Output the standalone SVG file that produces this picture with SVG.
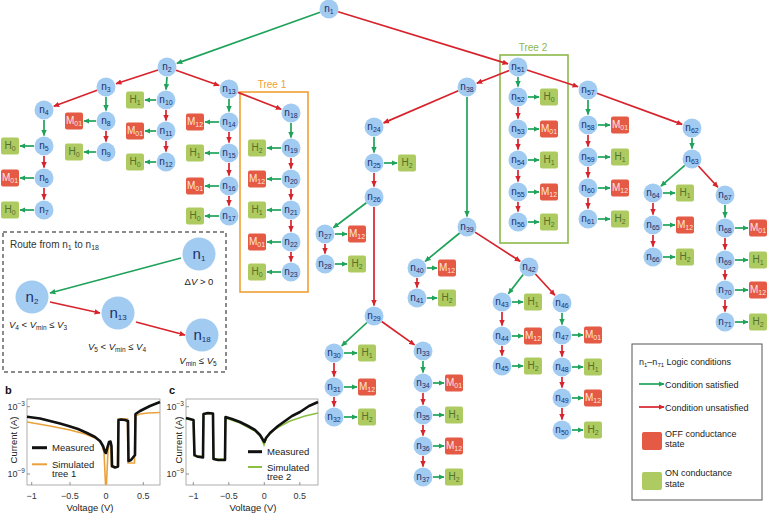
<svg xmlns="http://www.w3.org/2000/svg" width="768" height="514" viewBox="0 0 768 514">
<style>
text{font-family:"Liberation Sans",Arial,sans-serif}
.nd circle{fill:#A2CBF2}
.nd text{font-size:10px;fill:#1B2F6B;text-anchor:middle}
.sb{font-size:7px}
.off rect{fill:#E45A44}
.on rect{fill:#AECB62}
.off text{font-size:10px;fill:#FDE5DF;text-anchor:middle}
.on text{font-size:10px;fill:#55702C;text-anchor:middle}
.g{stroke:#1FA25A;stroke-width:1.7;fill:none;marker-end:url(#ag)}
.r{stroke:#D7232B;stroke-width:1.7;fill:none;marker-end:url(#ar)}
.big circle{fill:#A2CBF2}
.big text{font-size:15px;fill:#1B2F6B;text-anchor:middle}
.lbl{font-size:9.5px;fill:#222}
.ax{font-size:9px;fill:#333}
</style>
<defs>
<marker id="ag" viewBox="0 0 10 10" refX="9" refY="5" markerWidth="6" markerHeight="6" markerUnits="userSpaceOnUse" orient="auto"><path d="M0,0.5 L10,5 L0,9.5 z" fill="#1FA25A"/></marker>
<marker id="ar" viewBox="0 0 10 10" refX="9" refY="5" markerWidth="6" markerHeight="6" markerUnits="userSpaceOnUse" orient="auto"><path d="M0,0.5 L10,5 L0,9.5 z" fill="#D7232B"/></marker>
</defs>
<rect width="768" height="514" fill="#fff"/>

<!-- tree boxes -->
<rect x="240" y="92" width="68" height="200" fill="none" stroke="#F0A035" stroke-width="1.6"/>
<text x="272" y="88" font-size="10" fill="#F0A035" text-anchor="middle">Tree 1</text>
<rect x="500" y="55" width="68" height="188" fill="none" stroke="#8DB84A" stroke-width="1.6"/>
<text x="533" y="51" font-size="10" fill="#8DB84A" text-anchor="middle">Tree 2</text>

<g id="connectors">
<line class="g" x1="320.1" y1="12.2" x2="176.9" y2="63.4"/>
<line class="g" x1="167" y1="77" x2="166" y2="89.5"/>
<line class="g" x1="106" y1="97" x2="106" y2="110.5"/>
<line class="g" x1="44" y1="120" x2="44" y2="135.5"/>
<line class="g" x1="229" y1="99" x2="229" y2="111.5"/>
<line class="g" x1="291" y1="123" x2="291" y2="137.5"/>
<line class="g" x1="518" y1="77" x2="518" y2="86.5"/>
<line class="g" x1="467" y1="97" x2="467" y2="216.5"/>
<line class="g" x1="374" y1="137" x2="374" y2="152.5"/>
<line class="g" x1="366.4" y1="202.7" x2="333.4" y2="227.7"/>
<line class="g" x1="367" y1="322.5" x2="341.7" y2="345.9"/>
<line class="g" x1="423" y1="361" x2="423" y2="372.5"/>
<line class="g" x1="459.7" y1="233" x2="425.1" y2="261.3"/>
<line class="g" x1="523.2" y1="274.5" x2="508.4" y2="293.7"/>
<line class="g" x1="562" y1="313" x2="562" y2="324.5"/>
<line class="g" x1="588" y1="100" x2="588" y2="114.5"/>
<line class="g" x1="692" y1="138" x2="692" y2="148.5"/>
<line class="g" x1="684.8" y1="165.3" x2="660.9" y2="186.1"/>
<line class="g" x1="725" y1="205" x2="725" y2="217.5"/>

<line class="r" x1="338.1" y1="11.8" x2="508" y2="63.9"/>
<line class="r" x1="158" y1="70" x2="116" y2="83.7"/>
<line class="r" x1="176" y1="70.2" x2="219.1" y2="85.5"/>
<line class="r" x1="97.1" y1="90.3" x2="53.8" y2="106.3"/>
<line class="r" x1="44" y1="156" x2="44" y2="167.5"/>
<line class="r" x1="44" y1="188" x2="44" y2="199.5"/>
<line class="r" x1="106" y1="131" x2="106" y2="141.5"/>
<line class="r" x1="166" y1="110" x2="166" y2="120.5"/>
<line class="r" x1="166" y1="141" x2="166" y2="151.5"/>
<line class="r" x1="237.9" y1="92.4" x2="281.2" y2="109.2"/>
<line class="r" x1="229" y1="132" x2="229" y2="142.5"/>
<line class="r" x1="229" y1="163" x2="229" y2="175.5"/>
<line class="r" x1="229" y1="196" x2="229" y2="205.5"/>
<line class="r" x1="291" y1="158" x2="291" y2="168.5"/>
<line class="r" x1="291" y1="189" x2="291" y2="199.5"/>
<line class="r" x1="291" y1="220" x2="291" y2="231.5"/>
<line class="r" x1="291" y1="252" x2="291" y2="261.5"/>
<line class="r" x1="509.2" y1="70.5" x2="476.8" y2="83.2"/>
<line class="r" x1="527" y1="70" x2="578" y2="86.7"/>
<line class="r" x1="458.3" y1="90.8" x2="383.6" y2="122.9"/>
<line class="r" x1="374" y1="173" x2="374" y2="186.5"/>
<line class="r" x1="374" y1="207" x2="374" y2="305.5"/>
<line class="r" x1="325" y1="244" x2="325" y2="253.5"/>
<line class="r" x1="381.7" y1="321.5" x2="414.5" y2="344.9"/>
<line class="r" x1="334" y1="363" x2="334" y2="376.5"/>
<line class="r" x1="334" y1="397" x2="334" y2="406.5"/>
<line class="r" x1="423" y1="393" x2="423" y2="404.5"/>
<line class="r" x1="423" y1="425" x2="423" y2="435.5"/>
<line class="r" x1="423" y1="456" x2="423" y2="466.5"/>
<line class="r" x1="475" y1="232.1" x2="520.2" y2="261.3"/>
<line class="r" x1="417" y1="278" x2="417" y2="287.5"/>
<line class="r" x1="535.4" y1="274" x2="554.9" y2="295.3"/>
<line class="r" x1="502" y1="312" x2="502" y2="325.5"/>
<line class="r" x1="502" y1="346" x2="502" y2="355.5"/>
<line class="r" x1="562" y1="345" x2="562" y2="356.5"/>
<line class="r" x1="562" y1="377" x2="562" y2="387.5"/>
<line class="r" x1="562" y1="408" x2="562" y2="419.5"/>
<line class="r" x1="518" y1="107" x2="518" y2="118.5"/>
<line class="r" x1="518" y1="139" x2="518" y2="149.5"/>
<line class="r" x1="518" y1="170" x2="518" y2="181.5"/>
<line class="r" x1="518" y1="202" x2="518" y2="211.5"/>
<line class="r" x1="596.9" y1="93.3" x2="682.1" y2="124.4"/>
<line class="r" x1="588" y1="135" x2="588" y2="146.5"/>
<line class="r" x1="588" y1="167" x2="588" y2="177.5"/>
<line class="r" x1="588" y1="198" x2="588" y2="208.5"/>
<line class="r" x1="698.4" y1="166" x2="717.9" y2="187.3"/>
<line class="r" x1="653" y1="203" x2="653" y2="214.5"/>
<line class="r" x1="653" y1="235" x2="653" y2="246.5"/>
<line class="r" x1="725" y1="238" x2="725" y2="249.5"/>
<line class="r" x1="725" y1="270" x2="725" y2="279.5"/>
<line class="r" x1="725" y1="300" x2="725" y2="311.5"/>

<line class="g" x1="34" y1="146" x2="20" y2="146"/>
<line class="g" x1="34" y1="178" x2="20" y2="178"/>
<line class="g" x1="34" y1="210" x2="20" y2="210"/>
<line class="g" x1="96" y1="121" x2="84" y2="121"/>
<line class="g" x1="96" y1="152" x2="84" y2="152"/>
<line class="g" x1="156" y1="100" x2="145" y2="100"/>
<line class="g" x1="156" y1="131" x2="145" y2="131"/>
<line class="g" x1="156" y1="162" x2="145" y2="162"/>
<line class="g" x1="219" y1="122" x2="205" y2="122"/>
<line class="g" x1="219" y1="153" x2="205" y2="153"/>
<line class="g" x1="219" y1="186" x2="205" y2="186"/>
<line class="g" x1="219" y1="216" x2="205" y2="216"/>
<line class="g" x1="281" y1="148" x2="267" y2="148"/>
<line class="g" x1="281" y1="179" x2="267" y2="179"/>
<line class="g" x1="281" y1="210" x2="267" y2="210"/>
<line class="g" x1="281" y1="242" x2="267" y2="242"/>
<line class="g" x1="281" y1="272" x2="267" y2="272"/>
<line class="g" x1="384" y1="163" x2="397" y2="163"/>
<line class="g" x1="335" y1="234" x2="347" y2="234"/>
<line class="g" x1="335" y1="264" x2="347" y2="264"/>
<line class="g" x1="344" y1="353" x2="357" y2="353"/>
<line class="g" x1="344" y1="387" x2="357" y2="387"/>
<line class="g" x1="344" y1="417" x2="357" y2="417"/>
<line class="g" x1="433" y1="383" x2="444" y2="383"/>
<line class="g" x1="433" y1="415" x2="444" y2="415"/>
<line class="g" x1="433" y1="446" x2="444" y2="446"/>
<line class="g" x1="433" y1="477" x2="444" y2="477"/>
<line class="g" x1="427" y1="268" x2="437" y2="268"/>
<line class="g" x1="427" y1="298" x2="437" y2="298"/>
<line class="g" x1="512" y1="302" x2="523" y2="302"/>
<line class="g" x1="512" y1="336" x2="523" y2="336"/>
<line class="g" x1="512" y1="366" x2="523" y2="366"/>
<line class="g" x1="572" y1="335" x2="583" y2="335"/>
<line class="g" x1="572" y1="367" x2="583" y2="367"/>
<line class="g" x1="572" y1="398" x2="583" y2="398"/>
<line class="g" x1="572" y1="430" x2="583" y2="430"/>
<line class="g" x1="528" y1="97" x2="539" y2="97"/>
<line class="g" x1="528" y1="129" x2="539" y2="129"/>
<line class="g" x1="528" y1="160" x2="539" y2="160"/>
<line class="g" x1="528" y1="192" x2="539" y2="192"/>
<line class="g" x1="528" y1="222" x2="539" y2="222"/>
<line class="g" x1="598" y1="125" x2="610" y2="125"/>
<line class="g" x1="598" y1="157" x2="610" y2="157"/>
<line class="g" x1="598" y1="188" x2="610" y2="188"/>
<line class="g" x1="598" y1="219" x2="610" y2="219"/>
<line class="g" x1="663" y1="193" x2="675" y2="193"/>
<line class="g" x1="663" y1="225" x2="675" y2="225"/>
<line class="g" x1="663" y1="257" x2="675" y2="257"/>
<line class="g" x1="735" y1="228" x2="748" y2="228"/>
<line class="g" x1="735" y1="260" x2="748" y2="260"/>
<line class="g" x1="735" y1="290" x2="748" y2="290"/>
<line class="g" x1="735" y1="322" x2="748" y2="322"/>
</g>

<!-- logic nodes -->
<g id="n1" class="nd"><circle cx="329" cy="9" r="9.5"/><text x="329" y="12">n<tspan class="sb" dy="2">1</tspan></text></g>
<g id="n2" class="nd"><circle cx="167" cy="67" r="9.5"/><text x="167" y="70">n<tspan class="sb" dy="2">2</tspan></text></g>
<g id="n3" class="nd"><circle cx="106" cy="87" r="9.5"/><text x="106" y="90">n<tspan class="sb" dy="2">3</tspan></text></g>
<g id="n4" class="nd"><circle cx="44" cy="110" r="9.5"/><text x="44" y="113">n<tspan class="sb" dy="2">4</tspan></text></g>
<g id="n5" class="nd"><circle cx="44" cy="146" r="9.5"/><text x="44" y="149">n<tspan class="sb" dy="2">5</tspan></text></g>
<g id="n6" class="nd"><circle cx="44" cy="178" r="9.5"/><text x="44" y="181">n<tspan class="sb" dy="2">6</tspan></text></g>
<g id="n7" class="nd"><circle cx="44" cy="210" r="9.5"/><text x="44" y="213">n<tspan class="sb" dy="2">7</tspan></text></g>
<g id="n8" class="nd"><circle cx="106" cy="121" r="9.5"/><text x="106" y="124">n<tspan class="sb" dy="2">8</tspan></text></g>
<g id="n9" class="nd"><circle cx="106" cy="152" r="9.5"/><text x="106" y="155">n<tspan class="sb" dy="2">9</tspan></text></g>
<g id="n10" class="nd"><circle cx="166" cy="100" r="9.5"/><text x="166" y="103">n<tspan class="sb" dy="2">10</tspan></text></g>
<g id="n11" class="nd"><circle cx="166" cy="131" r="9.5"/><text x="166" y="134">n<tspan class="sb" dy="2">11</tspan></text></g>
<g id="n12" class="nd"><circle cx="166" cy="162" r="9.5"/><text x="166" y="165">n<tspan class="sb" dy="2">12</tspan></text></g>
<g id="n13" class="nd"><circle cx="229" cy="89" r="9.5"/><text x="229" y="92">n<tspan class="sb" dy="2">13</tspan></text></g>
<g id="n14" class="nd"><circle cx="229" cy="122" r="9.5"/><text x="229" y="125">n<tspan class="sb" dy="2">14</tspan></text></g>
<g id="n15" class="nd"><circle cx="229" cy="153" r="9.5"/><text x="229" y="156">n<tspan class="sb" dy="2">15</tspan></text></g>
<g id="n16" class="nd"><circle cx="229" cy="186" r="9.5"/><text x="229" y="189">n<tspan class="sb" dy="2">16</tspan></text></g>
<g id="n17" class="nd"><circle cx="229" cy="216" r="9.5"/><text x="229" y="219">n<tspan class="sb" dy="2">17</tspan></text></g>
<g id="n18" class="nd"><circle cx="291" cy="113" r="9.5"/><text x="291" y="116">n<tspan class="sb" dy="2">18</tspan></text></g>
<g id="n19" class="nd"><circle cx="291" cy="148" r="9.5"/><text x="291" y="151">n<tspan class="sb" dy="2">19</tspan></text></g>
<g id="n20" class="nd"><circle cx="291" cy="179" r="9.5"/><text x="291" y="182">n<tspan class="sb" dy="2">20</tspan></text></g>
<g id="n21" class="nd"><circle cx="291" cy="210" r="9.5"/><text x="291" y="213">n<tspan class="sb" dy="2">21</tspan></text></g>
<g id="n22" class="nd"><circle cx="291" cy="242" r="9.5"/><text x="291" y="245">n<tspan class="sb" dy="2">22</tspan></text></g>
<g id="n23" class="nd"><circle cx="291" cy="272" r="9.5"/><text x="291" y="275">n<tspan class="sb" dy="2">23</tspan></text></g>
<g id="n24" class="nd"><circle cx="374" cy="127" r="9.5"/><text x="374" y="130">n<tspan class="sb" dy="2">24</tspan></text></g>
<g id="n25" class="nd"><circle cx="374" cy="163" r="9.5"/><text x="374" y="166">n<tspan class="sb" dy="2">25</tspan></text></g>
<g id="n26" class="nd"><circle cx="374" cy="197" r="9.5"/><text x="374" y="200">n<tspan class="sb" dy="2">26</tspan></text></g>
<g id="n27" class="nd"><circle cx="325" cy="234" r="9.5"/><text x="325" y="237">n<tspan class="sb" dy="2">27</tspan></text></g>
<g id="n28" class="nd"><circle cx="325" cy="264" r="9.5"/><text x="325" y="267">n<tspan class="sb" dy="2">28</tspan></text></g>
<g id="n29" class="nd"><circle cx="374" cy="316" r="9.5"/><text x="374" y="319">n<tspan class="sb" dy="2">29</tspan></text></g>
<g id="n30" class="nd"><circle cx="334" cy="353" r="9.5"/><text x="334" y="356">n<tspan class="sb" dy="2">30</tspan></text></g>
<g id="n31" class="nd"><circle cx="334" cy="387" r="9.5"/><text x="334" y="390">n<tspan class="sb" dy="2">31</tspan></text></g>
<g id="n32" class="nd"><circle cx="334" cy="417" r="9.5"/><text x="334" y="420">n<tspan class="sb" dy="2">32</tspan></text></g>
<g id="n33" class="nd"><circle cx="423" cy="351" r="9.5"/><text x="423" y="354">n<tspan class="sb" dy="2">33</tspan></text></g>
<g id="n34" class="nd"><circle cx="423" cy="383" r="9.5"/><text x="423" y="386">n<tspan class="sb" dy="2">34</tspan></text></g>
<g id="n35" class="nd"><circle cx="423" cy="415" r="9.5"/><text x="423" y="418">n<tspan class="sb" dy="2">35</tspan></text></g>
<g id="n36" class="nd"><circle cx="423" cy="446" r="9.5"/><text x="423" y="449">n<tspan class="sb" dy="2">36</tspan></text></g>
<g id="n37" class="nd"><circle cx="423" cy="477" r="9.5"/><text x="423" y="480">n<tspan class="sb" dy="2">37</tspan></text></g>
<g id="n38" class="nd"><circle cx="467" cy="87" r="9.5"/><text x="467" y="90">n<tspan class="sb" dy="2">38</tspan></text></g>
<g id="n39" class="nd"><circle cx="467" cy="227" r="9.5"/><text x="467" y="230">n<tspan class="sb" dy="2">39</tspan></text></g>
<g id="n40" class="nd"><circle cx="417" cy="268" r="9.5"/><text x="417" y="271">n<tspan class="sb" dy="2">40</tspan></text></g>
<g id="n41" class="nd"><circle cx="417" cy="298" r="9.5"/><text x="417" y="301">n<tspan class="sb" dy="2">41</tspan></text></g>
<g id="n42" class="nd"><circle cx="529" cy="267" r="9.5"/><text x="529" y="270">n<tspan class="sb" dy="2">42</tspan></text></g>
<g id="n43" class="nd"><circle cx="502" cy="302" r="9.5"/><text x="502" y="305">n<tspan class="sb" dy="2">43</tspan></text></g>
<g id="n44" class="nd"><circle cx="502" cy="336" r="9.5"/><text x="502" y="339">n<tspan class="sb" dy="2">44</tspan></text></g>
<g id="n45" class="nd"><circle cx="502" cy="366" r="9.5"/><text x="502" y="369">n<tspan class="sb" dy="2">45</tspan></text></g>
<g id="n46" class="nd"><circle cx="562" cy="303" r="9.5"/><text x="562" y="306">n<tspan class="sb" dy="2">46</tspan></text></g>
<g id="n47" class="nd"><circle cx="562" cy="335" r="9.5"/><text x="562" y="338">n<tspan class="sb" dy="2">47</tspan></text></g>
<g id="n48" class="nd"><circle cx="562" cy="367" r="9.5"/><text x="562" y="370">n<tspan class="sb" dy="2">48</tspan></text></g>
<g id="n49" class="nd"><circle cx="562" cy="398" r="9.5"/><text x="562" y="401">n<tspan class="sb" dy="2">49</tspan></text></g>
<g id="n50" class="nd"><circle cx="562" cy="430" r="9.5"/><text x="562" y="433">n<tspan class="sb" dy="2">50</tspan></text></g>
<g id="n51" class="nd"><circle cx="518" cy="67" r="9.5"/><text x="518" y="70">n<tspan class="sb" dy="2">51</tspan></text></g>
<g id="n52" class="nd"><circle cx="518" cy="97" r="9.5"/><text x="518" y="100">n<tspan class="sb" dy="2">52</tspan></text></g>
<g id="n53" class="nd"><circle cx="518" cy="129" r="9.5"/><text x="518" y="132">n<tspan class="sb" dy="2">53</tspan></text></g>
<g id="n54" class="nd"><circle cx="518" cy="160" r="9.5"/><text x="518" y="163">n<tspan class="sb" dy="2">54</tspan></text></g>
<g id="n55" class="nd"><circle cx="518" cy="192" r="9.5"/><text x="518" y="195">n<tspan class="sb" dy="2">55</tspan></text></g>
<g id="n56" class="nd"><circle cx="518" cy="222" r="9.5"/><text x="518" y="225">n<tspan class="sb" dy="2">56</tspan></text></g>
<g id="n57" class="nd"><circle cx="588" cy="90" r="9.5"/><text x="588" y="93">n<tspan class="sb" dy="2">57</tspan></text></g>
<g id="n58" class="nd"><circle cx="588" cy="125" r="9.5"/><text x="588" y="128">n<tspan class="sb" dy="2">58</tspan></text></g>
<g id="n59" class="nd"><circle cx="588" cy="157" r="9.5"/><text x="588" y="160">n<tspan class="sb" dy="2">59</tspan></text></g>
<g id="n60" class="nd"><circle cx="588" cy="188" r="9.5"/><text x="588" y="191">n<tspan class="sb" dy="2">60</tspan></text></g>
<g id="n61" class="nd"><circle cx="588" cy="219" r="9.5"/><text x="588" y="222">n<tspan class="sb" dy="2">61</tspan></text></g>
<g id="n62" class="nd"><circle cx="692" cy="128" r="9.5"/><text x="692" y="131">n<tspan class="sb" dy="2">62</tspan></text></g>
<g id="n63" class="nd"><circle cx="692" cy="159" r="9.5"/><text x="692" y="162">n<tspan class="sb" dy="2">63</tspan></text></g>
<g id="n64" class="nd"><circle cx="653" cy="193" r="9.5"/><text x="653" y="196">n<tspan class="sb" dy="2">64</tspan></text></g>
<g id="n65" class="nd"><circle cx="653" cy="225" r="9.5"/><text x="653" y="228">n<tspan class="sb" dy="2">65</tspan></text></g>
<g id="n66" class="nd"><circle cx="653" cy="257" r="9.5"/><text x="653" y="260">n<tspan class="sb" dy="2">66</tspan></text></g>
<g id="n67" class="nd"><circle cx="725" cy="195" r="9.5"/><text x="725" y="198">n<tspan class="sb" dy="2">67</tspan></text></g>
<g id="n68" class="nd"><circle cx="725" cy="228" r="9.5"/><text x="725" y="231">n<tspan class="sb" dy="2">68</tspan></text></g>
<g id="n69" class="nd"><circle cx="725" cy="260" r="9.5"/><text x="725" y="263">n<tspan class="sb" dy="2">69</tspan></text></g>
<g id="n70" class="nd"><circle cx="725" cy="290" r="9.5"/><text x="725" y="293">n<tspan class="sb" dy="2">70</tspan></text></g>
<g id="n71" class="nd"><circle cx="725" cy="322" r="9.5"/><text x="725" y="325">n<tspan class="sb" dy="2">71</tspan></text></g>

<!-- state nodes -->
<g id="s5" class="on"><rect x="1" y="137.5" width="18" height="17" rx="2"/><text x="10" y="149">H<tspan class="sb" dy="2">0</tspan></text></g>
<g id="s6" class="off"><rect x="1" y="169.5" width="18" height="17" rx="2"/><text x="10" y="181">M<tspan class="sb" dy="2">01</tspan></text></g>
<g id="s7" class="on"><rect x="1" y="201.5" width="18" height="17" rx="2"/><text x="10" y="213">H<tspan class="sb" dy="2">0</tspan></text></g>
<g id="s8" class="off"><rect x="65" y="112.5" width="18" height="17" rx="2"/><text x="74" y="124">M<tspan class="sb" dy="2">01</tspan></text></g>
<g id="s9" class="on"><rect x="65" y="143.5" width="18" height="17" rx="2"/><text x="74" y="155">H<tspan class="sb" dy="2">0</tspan></text></g>
<g id="s10" class="on"><rect x="126" y="91.5" width="18" height="17" rx="2"/><text x="135" y="103">H<tspan class="sb" dy="2">1</tspan></text></g>
<g id="s11" class="off"><rect x="126" y="122.5" width="18" height="17" rx="2"/><text x="135" y="134">M<tspan class="sb" dy="2">01</tspan></text></g>
<g id="s12" class="on"><rect x="126" y="153.5" width="18" height="17" rx="2"/><text x="135" y="165">H<tspan class="sb" dy="2">0</tspan></text></g>
<g id="s14" class="off"><rect x="186" y="113.5" width="18" height="17" rx="2"/><text x="195" y="125">M<tspan class="sb" dy="2">12</tspan></text></g>
<g id="s15" class="on"><rect x="186" y="144.5" width="18" height="17" rx="2"/><text x="195" y="156">H<tspan class="sb" dy="2">1</tspan></text></g>
<g id="s16" class="off"><rect x="186" y="177.5" width="18" height="17" rx="2"/><text x="195" y="189">M<tspan class="sb" dy="2">01</tspan></text></g>
<g id="s17" class="on"><rect x="186" y="207.5" width="18" height="17" rx="2"/><text x="195" y="219">H<tspan class="sb" dy="2">0</tspan></text></g>
<g id="s19" class="on"><rect x="248" y="139.5" width="18" height="17" rx="2"/><text x="257" y="151">H<tspan class="sb" dy="2">2</tspan></text></g>
<g id="s20" class="off"><rect x="248" y="170.5" width="18" height="17" rx="2"/><text x="257" y="182">M<tspan class="sb" dy="2">12</tspan></text></g>
<g id="s21" class="on"><rect x="248" y="201.5" width="18" height="17" rx="2"/><text x="257" y="213">H<tspan class="sb" dy="2">1</tspan></text></g>
<g id="s22" class="off"><rect x="248" y="233.5" width="18" height="17" rx="2"/><text x="257" y="245">M<tspan class="sb" dy="2">01</tspan></text></g>
<g id="s23" class="on"><rect x="248" y="263.5" width="18" height="17" rx="2"/><text x="257" y="275">H<tspan class="sb" dy="2">0</tspan></text></g>
<g id="s25" class="on"><rect x="398" y="154.5" width="18" height="17" rx="2"/><text x="407" y="166">H<tspan class="sb" dy="2">2</tspan></text></g>
<g id="s27" class="off"><rect x="348" y="225.5" width="18" height="17" rx="2"/><text x="357" y="237">M<tspan class="sb" dy="2">12</tspan></text></g>
<g id="s28" class="on"><rect x="348" y="255.5" width="18" height="17" rx="2"/><text x="357" y="267">H<tspan class="sb" dy="2">2</tspan></text></g>
<g id="s30" class="on"><rect x="358" y="344.5" width="18" height="17" rx="2"/><text x="367" y="356">H<tspan class="sb" dy="2">1</tspan></text></g>
<g id="s31" class="off"><rect x="358" y="378.5" width="18" height="17" rx="2"/><text x="367" y="390">M<tspan class="sb" dy="2">12</tspan></text></g>
<g id="s32" class="on"><rect x="358" y="408.5" width="18" height="17" rx="2"/><text x="367" y="420">H<tspan class="sb" dy="2">2</tspan></text></g>
<g id="s34" class="off"><rect x="445" y="374.5" width="18" height="17" rx="2"/><text x="454" y="386">M<tspan class="sb" dy="2">01</tspan></text></g>
<g id="s35" class="on"><rect x="445" y="406.5" width="18" height="17" rx="2"/><text x="454" y="418">H<tspan class="sb" dy="2">1</tspan></text></g>
<g id="s36" class="off"><rect x="445" y="437.5" width="18" height="17" rx="2"/><text x="454" y="449">M<tspan class="sb" dy="2">12</tspan></text></g>
<g id="s37" class="on"><rect x="445" y="468.5" width="18" height="17" rx="2"/><text x="454" y="480">H<tspan class="sb" dy="2">2</tspan></text></g>
<g id="s40" class="off"><rect x="438" y="259.5" width="18" height="17" rx="2"/><text x="447" y="271">M<tspan class="sb" dy="2">12</tspan></text></g>
<g id="s41" class="on"><rect x="438" y="289.5" width="18" height="17" rx="2"/><text x="447" y="301">H<tspan class="sb" dy="2">2</tspan></text></g>
<g id="s43" class="on"><rect x="524" y="293.5" width="18" height="17" rx="2"/><text x="533" y="305">H<tspan class="sb" dy="2">1</tspan></text></g>
<g id="s44" class="off"><rect x="524" y="327.5" width="18" height="17" rx="2"/><text x="533" y="339">M<tspan class="sb" dy="2">12</tspan></text></g>
<g id="s45" class="on"><rect x="524" y="357.5" width="18" height="17" rx="2"/><text x="533" y="369">H<tspan class="sb" dy="2">2</tspan></text></g>
<g id="s47" class="off"><rect x="584" y="326.5" width="18" height="17" rx="2"/><text x="593" y="338">M<tspan class="sb" dy="2">01</tspan></text></g>
<g id="s48" class="on"><rect x="584" y="358.5" width="18" height="17" rx="2"/><text x="593" y="370">H<tspan class="sb" dy="2">1</tspan></text></g>
<g id="s49" class="off"><rect x="584" y="389.5" width="18" height="17" rx="2"/><text x="593" y="401">M<tspan class="sb" dy="2">12</tspan></text></g>
<g id="s50" class="on"><rect x="584" y="421.5" width="18" height="17" rx="2"/><text x="593" y="433">H<tspan class="sb" dy="2">2</tspan></text></g>
<g id="s52" class="on"><rect x="540" y="88.5" width="18" height="17" rx="2"/><text x="549" y="100">H<tspan class="sb" dy="2">0</tspan></text></g>
<g id="s53" class="off"><rect x="540" y="120.5" width="18" height="17" rx="2"/><text x="549" y="132">M<tspan class="sb" dy="2">01</tspan></text></g>
<g id="s54" class="on"><rect x="540" y="151.5" width="18" height="17" rx="2"/><text x="549" y="163">H<tspan class="sb" dy="2">1</tspan></text></g>
<g id="s55" class="off"><rect x="540" y="183.5" width="18" height="17" rx="2"/><text x="549" y="195">M<tspan class="sb" dy="2">12</tspan></text></g>
<g id="s56" class="on"><rect x="540" y="213.5" width="18" height="17" rx="2"/><text x="549" y="225">H<tspan class="sb" dy="2">2</tspan></text></g>
<g id="s58" class="off"><rect x="611" y="116.5" width="18" height="17" rx="2"/><text x="620" y="128">M<tspan class="sb" dy="2">01</tspan></text></g>
<g id="s59" class="on"><rect x="611" y="148.5" width="18" height="17" rx="2"/><text x="620" y="160">H<tspan class="sb" dy="2">1</tspan></text></g>
<g id="s60" class="off"><rect x="611" y="179.5" width="18" height="17" rx="2"/><text x="620" y="191">M<tspan class="sb" dy="2">12</tspan></text></g>
<g id="s61" class="on"><rect x="611" y="210.5" width="18" height="17" rx="2"/><text x="620" y="222">H<tspan class="sb" dy="2">2</tspan></text></g>
<g id="s64" class="on"><rect x="676" y="184.5" width="18" height="17" rx="2"/><text x="685" y="196">H<tspan class="sb" dy="2">1</tspan></text></g>
<g id="s65" class="off"><rect x="676" y="216.5" width="18" height="17" rx="2"/><text x="685" y="228">M<tspan class="sb" dy="2">12</tspan></text></g>
<g id="s66" class="on"><rect x="676" y="248.5" width="18" height="17" rx="2"/><text x="685" y="260">H<tspan class="sb" dy="2">2</tspan></text></g>
<g id="s68" class="off"><rect x="749" y="219.5" width="18" height="17" rx="2"/><text x="758" y="231">M<tspan class="sb" dy="2">01</tspan></text></g>
<g id="s69" class="on"><rect x="749" y="251.5" width="18" height="17" rx="2"/><text x="758" y="263">H<tspan class="sb" dy="2">1</tspan></text></g>
<g id="s70" class="off"><rect x="749" y="281.5" width="18" height="17" rx="2"/><text x="758" y="293">M<tspan class="sb" dy="2">12</tspan></text></g>
<g id="s71" class="on"><rect x="749" y="313.5" width="18" height="17" rx="2"/><text x="758" y="325">H<tspan class="sb" dy="2">2</tspan></text></g>

<!-- inset route -->
<g id="inset">
<rect x="3" y="232" width="223" height="140" fill="none" stroke="#666" stroke-width="1.5" stroke-dasharray="4,3"/>
<text x="10" y="248" font-size="10" fill="#333">Route from n<tspan font-size="7" dy="2">1</tspan><tspan dy="-2"> to n</tspan><tspan font-size="7" dy="2">18</tspan></text>
<line class="g" x1="181" y1="258" x2="50" y2="293"/>
<line class="r" x1="50" y1="302" x2="100" y2="313"/>
<line class="r" x1="136" y1="322" x2="185" y2="335"/>
<g id="i1" class="big"><circle cx="199" cy="254" r="16.5"/><text x="199" y="259">n<tspan font-size="8" dy="2">1</tspan></text></g>
<g id="i2" class="big"><circle cx="32" cy="297" r="16.5"/><text x="32" y="302">n<tspan font-size="8" dy="2">2</tspan></text></g>
<g id="i13" class="big"><circle cx="118" cy="313" r="16.5"/><text x="118" y="318">n<tspan font-size="8" dy="2">13</tspan></text></g>
<g id="i18" class="big"><circle cx="202" cy="335" r="16.5"/><text x="202" y="340">n<tspan font-size="8" dy="2">18</tspan></text></g>
<text x="199" y="285" class="lbl" text-anchor="middle">Δ<tspan font-style="italic">V</tspan> &gt; 0</text>
<text x="38" y="328" class="lbl" text-anchor="middle"><tspan font-style="italic">V</tspan><tspan font-size="6.5" dy="2">4</tspan><tspan dy="-2"> &lt; </tspan><tspan font-style="italic">V</tspan><tspan font-size="6.5" dy="2">min</tspan><tspan dy="-2"> ≤ </tspan><tspan font-style="italic">V</tspan><tspan font-size="6.5" dy="2">3</tspan></text>
<text x="117" y="350" class="lbl" text-anchor="middle"><tspan font-style="italic">V</tspan><tspan font-size="6.5" dy="2">5</tspan><tspan dy="-2"> &lt; </tspan><tspan font-style="italic">V</tspan><tspan font-size="6.5" dy="2">min</tspan><tspan dy="-2"> ≤ </tspan><tspan font-style="italic">V</tspan><tspan font-size="6.5" dy="2">4</tspan></text>
<text x="198" y="364" class="lbl" text-anchor="middle"><tspan font-style="italic">V</tspan><tspan font-size="6.5" dy="2">min</tspan><tspan dy="-2"> ≤ </tspan><tspan font-style="italic">V</tspan><tspan font-size="6.5" dy="2">5</tspan></text>
</g>

<!-- legend -->
<g id="legend">
<rect x="632" y="344" width="130" height="156" fill="#fff" stroke="#555" stroke-width="1"/>
<text x="639" y="365" font-size="9" fill="#222">n<tspan font-size="6" dy="2">1</tspan><tspan dy="-2">–n</tspan><tspan font-size="6" dy="2">71</tspan><tspan dy="-2"> Logic conditions</tspan></text>
<line class="g" x1="639" y1="384" x2="664" y2="384"/>
<text x="665" y="387.5" font-size="9" fill="#222">Condition satisfied</text>
<line class="r" x1="639" y1="407" x2="664" y2="407"/>
<text x="665" y="410.5" font-size="9" fill="#222">Condition unsatisfied</text>
<rect x="642" y="432" width="20" height="18" rx="2" fill="#E45A44"/>
<text x="665" y="436.5" font-size="9" fill="#222">OFF conductance</text>
<text x="665" y="447" font-size="9" fill="#222">state</text>
<rect x="642" y="472" width="20" height="18" rx="2" fill="#AECB62"/>
<text x="665" y="476" font-size="9" fill="#222">ON conductance</text>
<text x="665" y="487" font-size="9" fill="#222">state</text>
</g>

<!-- plot b -->
<g id="plot-b">
<text x="5" y="394" font-size="11" font-weight="bold" fill="#111">b</text>
<rect x="27" y="399" width="133" height="86" fill="none" stroke="#999" stroke-width="0.8"/>
<g stroke="#777" stroke-width="0.8"><line x1="31.7" y1="485" x2="31.7" y2="482"/><line x1="70" y1="485" x2="70" y2="482"/><line x1="106" y1="485" x2="106" y2="482"/><line x1="143.3" y1="485" x2="143.3" y2="482"/><line x1="27" y1="406.7" x2="30" y2="406.7"/><line x1="27" y1="474" x2="30" y2="474"/></g>
<path d="M27,422 L50,426 L70,430 L85,434 L95,438 L101,442 L104,452 L105.5,484 L106.5,484 L108,450 L110,442 L111,446 L111.5,467 L117.5,467 L118,419 L127.5,419 L128,463 L134.5,463 L135,416 L140,414 L148,413 L160,412.5" fill="none" stroke="#E9A23B" stroke-width="1.6"/>
<path d="M27,416.7 L40,418.5 L50,421 L60,423.5 L68.6,426 L78,429 L87,433 L95,437 L100,441 L103,446 L105,452 L106,453 L107.5,447 L109,442 L110.5,441.5 L111.5,446 L112,466 L115,467.5 L118,466.5 L118.5,420 L121,419.5 L125,420 L128,421 L128.5,461 L131,460 L135,455 L135.5,414 L140,411 L145,408.5 L150,406 L155,404 L160,402" fill="none" stroke="#111" stroke-width="2.6" stroke-linejoin="round"/>
<text x="25" y="410" class="ax" text-anchor="end">10<tspan font-size="6.5" dy="-4">−3</tspan></text>
<text x="25" y="477" class="ax" text-anchor="end">10<tspan font-size="6.5" dy="-4">−9</tspan></text>
<text transform="translate(16.5,440) rotate(-90)" class="lbl" text-anchor="middle">Current (A)</text>
<text x="31.7" y="499" class="ax" text-anchor="middle">−1</text>
<text x="70" y="499" class="ax" text-anchor="middle">−0.5</text>
<text x="106" y="499" class="ax" text-anchor="middle">0</text>
<text x="143.3" y="499" class="ax" text-anchor="middle">0.5</text>
<text x="90" y="511" class="lbl" text-anchor="middle">Voltage (V)</text>
<line x1="32" y1="447.7" x2="47" y2="447.7" stroke="#111" stroke-width="3"/>
<text x="52" y="451" class="lbl">Measured</text>
<line x1="32" y1="464.3" x2="47" y2="464.3" stroke="#E9A23B" stroke-width="2"/>
<text x="52" y="467.5" class="lbl">Simulated</text>
<text x="52" y="477" class="lbl">tree 1</text>
</g>

<!-- plot c -->
<g id="plot-c">
<text x="169" y="394" font-size="11" font-weight="bold" fill="#111">c</text>
<rect x="186" y="399" width="132" height="86" fill="none" stroke="#999" stroke-width="0.8"/>
<g stroke="#777" stroke-width="0.8"><line x1="193.3" y1="485" x2="193.3" y2="482"/><line x1="228.8" y1="485" x2="228.8" y2="482"/><line x1="264.3" y1="485" x2="264.3" y2="482"/><line x1="299.8" y1="485" x2="299.8" y2="482"/><line x1="186" y1="406.7" x2="189" y2="406.7"/><line x1="186" y1="474" x2="189" y2="474"/></g>
<path d="M186,419 L193.5,420 L194,456 L203,456 L203.5,414 L213,414 L213.5,459 L225,459 L225.5,418 L240,423 L255,431 L261,437 L264,445 L267,437 L275,429 L290,421 L305,416 L318,413" fill="none" stroke="#8DBF45" stroke-width="1.6"/>
<path d="M186,418 L193.5,420 L194.5,455 L197,456.5 L203,457.5 L203.5,414 L208,413 L213,413.5 L213.5,459 L218,460 L225,460 L225.5,417 L232,419 L240,422 L248,426 L255,430 L260,435 L263,440 L264.3,442 L266,438 L270,433 L278,426 L285,421 L292,416 L300,412 L309,406 L318,402" fill="none" stroke="#111" stroke-width="2.6" stroke-linejoin="round"/>
<text x="184" y="410" class="ax" text-anchor="end">10<tspan font-size="6.5" dy="-4">−3</tspan></text>
<text x="184" y="477" class="ax" text-anchor="end">10<tspan font-size="6.5" dy="-4">−9</tspan></text>
<text transform="translate(182,440) rotate(-90)" class="lbl" text-anchor="middle">Current (A)</text>
<text x="193.3" y="499" class="ax" text-anchor="middle">−1</text>
<text x="228.8" y="499" class="ax" text-anchor="middle">−0.5</text>
<text x="264.3" y="499" class="ax" text-anchor="middle">0</text>
<text x="299.8" y="499" class="ax" text-anchor="middle">0.5</text>
<text x="253" y="511" class="lbl" text-anchor="middle">Voltage (V)</text>
<line x1="248" y1="451.7" x2="262" y2="451.7" stroke="#111" stroke-width="3"/>
<text x="267" y="455" class="lbl">Measured</text>
<line x1="248" y1="467" x2="262" y2="467" stroke="#8DBF45" stroke-width="2"/>
<text x="267" y="470.5" class="lbl">Simulated</text>
<text x="267" y="480" class="lbl">tree 2</text>
</g>
</svg>
